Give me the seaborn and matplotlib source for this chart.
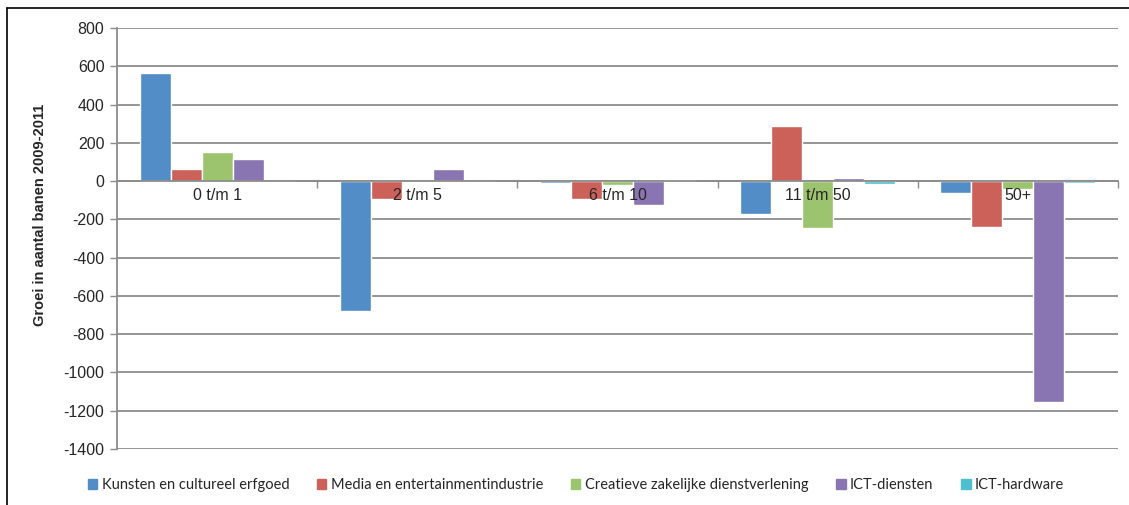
import matplotlib.pyplot as plt
import seaborn as sns
import pandas as pd
from matplotlib.lines import Line2D
from matplotlib.ticker import FixedLocator

# bedrijfsgrootte-klassen en sectoren
categories = ['0 t/m 1', '2 t/m 5', '6 t/m 10', '11 t/m 50', '50+']
sectors = ['Kunsten en cultureel erfgoed', 'Media en entertainmentindustrie',
           'Creatieve zakelijke dienstverlening', 'ICT-diensten', 'ICT-hardware']

kunsten = [565, -680, -8, -170, -60]
media = [65, -96, -93, 290, -240]
creatief = [150, 3, -19, -245, -42]
ict_diensten = [115, 64, -124, 15, -1155]
ict_hardware = [2, -2, 5, -15, -9]

yticks = list(range(-1400, 801, 200))
colors = ['#538DC7', '#CC6159', '#9CC36E', '#8975B1', '#4EBFD0']

# long-form tabel voor seaborn
rows = []
for sector, values in zip(sectors, [kunsten, media, creatief, ict_diensten, ict_hardware]):
    for cat, v in zip(categories, values):
        rows.append({'klasse': cat, 'sector': sector, 'groei': v})
df = pd.DataFrame(rows)

sns.set_style('white')
plt.rcParams['font.family'] = ['Liberation Sans', 'DejaVu Sans']
plt.rcParams['axes.unicode_minus'] = False

W, H = 1129, 505
fig = plt.figure(figsize=(W / 100, H / 100), dpi=100)
ax = fig.add_axes([117 / W, 1 - 449 / H, (1118 - 117) / W, (449 - 28) / H])

sns.barplot(data=df, x='klasse', y='groei', hue='sector', order=categories,
            hue_order=sectors, palette=colors, width=0.775, saturation=1,
            ax=ax, legend=False)

ax.set_ylim(-1400, 800)
ax.set_xlim(-0.5, len(categories) - 0.5)
ax.set_yticks(yticks)
ax.yaxis.grid(True, color='#8c8c8c', linewidth=1.3)
ax.set_axisbelow(True)
ax.tick_params(axis='y', labelsize=11.5, length=5, width=1, color='#8c8c8c',
               left=True, pad=4)

# x-as op de nullijn, labels net eronder (boven de staven getekend)
ax.spines['bottom'].set_position(('data', 0))
ax.spines['bottom'].set_color('#8c8c8c')
ax.spines['bottom'].set_linewidth(1.3)
ax.spines['left'].set_color('#8c8c8c')
ax.spines['left'].set_linewidth(1.3)
ax.spines['top'].set_visible(False)
ax.spines['right'].set_visible(False)
ax.set_xticks(range(len(categories)))
ax.set_xticklabels([])
ax.tick_params(axis='x', length=0)
ax.xaxis.set_minor_locator(FixedLocator([i + 0.5 for i in range(len(categories))]))
ax.tick_params(axis='x', which='minor', length=5, width=1, color='#8c8c8c', bottom=True)
for i, cat in enumerate(categories):
    ax.annotate(cat, (i, 0), xytext=(0, -5), textcoords='offset points',
                ha='center', va='top', fontsize=11.5, zorder=10)

ax.set_xlabel('')
ax.set_ylabel('')
fig.text(40 / W, 1 - 215 / H, 'Groei in aantal banen 2009-2011', rotation=90,
         ha='center', va='center', fontsize=10.5, fontweight='bold')

# legenda onderaan
handles = [plt.Rectangle((0, 0), 1, 1, color=c) for c in colors]
fig.legend(handles, sectors, loc='center', ncol=5, frameon=False,
           bbox_to_anchor=(576 / W, 1 - 485 / H),
           handlelength=0.65, handleheight=0.65, handletextpad=0.3,
           columnspacing=1.9, prop={'family': 'Lato', 'size': 10.5})

# kader rond de grafiek
fig.add_artist(Line2D([7 / W, 7 / W], [0, 1 - 8 / H], color='black', linewidth=1.2))
fig.add_artist(Line2D([7 / W, 1], [1 - 8 / H, 1 - 8 / H], color='black', linewidth=1.2))

plt.savefig('out.png', dpi=100)
